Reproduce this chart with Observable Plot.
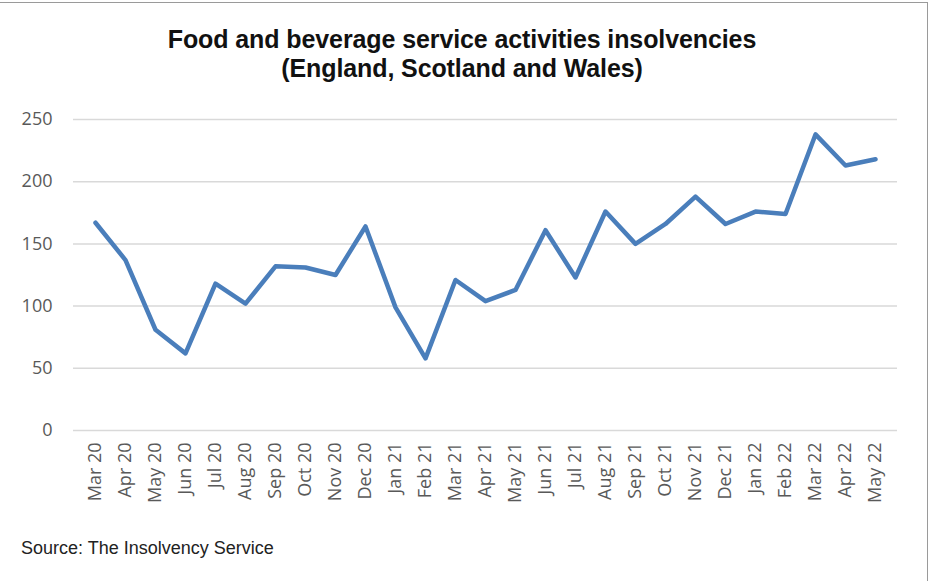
<!DOCTYPE html>
<html>
<head>
<meta charset="utf-8">
<script src="https://cdn.jsdelivr.net/npm/d3@7"></script>
<script src="https://cdn.jsdelivr.net/npm/@observablehq/plot@0.6"></script>
<style>
  html, body { margin: 0; padding: 0; background: #fff; }
  #frame { position: relative; width: 933px; height: 581px; box-sizing: border-box; overflow: hidden; }
  #frame::before { content: ""; position: absolute; left: 0; top: 2px; width: 928px; height: 1px; background: #9a9a9a; }
  #frame::after { content: ""; position: absolute; left: 927px; top: 2px; width: 1px; height: 579px; background: #9a9a9a; }
  #title { position: absolute; left: 0; top: 0; width: 924px; height: 95px; text-align: center;
    font-family: "Liberation Sans", Arial, sans-serif; font-weight: bold; font-size: 25px; line-height: 29px;
    color: #111; padding-top: 25px; box-sizing: border-box; letter-spacing: -0.1px; }
  #chart { position: absolute; left: 0; top: 95px; }
  #caption { position: absolute; left: 21px; top: 538px; font-family: "Liberation Sans", Arial, sans-serif;
    font-size: 18px; line-height: 20px; color: #222; }
</style>
</head>
<body>
<div id="frame">
  <div id="title">Food and beverage service activities insolvencies<br>(England, Scotland and Wales)</div>
  <div id="chart"></div>
  <div id="caption">Source: The Insolvency Service</div>
</div>
<script>
const months = ["Mar 20","Apr 20","May 20","Jun 20","Jul 20","Aug 20","Sep 20","Oct 20","Nov 20","Dec 20",
  "Jan 21","Feb 21","Mar 21","Apr 21","May 21","Jun 21","Jul 21","Aug 21","Sep 21","Oct 21","Nov 21","Dec 21",
  "Jan 22","Feb 22","Mar 22","Apr 22","May 22"];
const insolvencies = [167,137,81,62,118,102,132,131,125,164,
  99,58,121,104,113,161,123,176,150,166,188,166,
  176,174,238,213,218];
const yTicks = [0,50,100,150,200,250];

const data = months.map((m, i) => ({month: m, value: insolvencies[i]}));

const chart = Plot.plot({
  width: 933,
  height: 420,
  marginTop: 24,
  marginBottom: 85,
  marginLeft: 73,
  marginRight: 36,
  style: {fontFamily: "'Open Sans', sans-serif", fontSize: "18px", color: "#595959", background: "transparent"},
  x: {type: "point", domain: months, padding: 0.5},
  y: {domain: [0, 250]},
  marks: [
    Plot.gridY(yTicks, {stroke: "#d9d9d9", strokeOpacity: 1, strokeWidth: 1.5}),
    Plot.axisY(yTicks, {tickSize: 0, tickPadding: 21, label: null, fill: "#595959"}),
    Plot.axisX({tickSize: 0, tickPadding: 12, tickRotate: -90, label: null, fill: "#595959"}),
    Plot.line(data, {x: "month", y: "value", stroke: "#4a7ebb", strokeWidth: 4.5,
      strokeLinejoin: "round", strokeLinecap: "round"})
  ]
});
document.getElementById("chart").appendChild(chart);
</script>
</body>
</html>
